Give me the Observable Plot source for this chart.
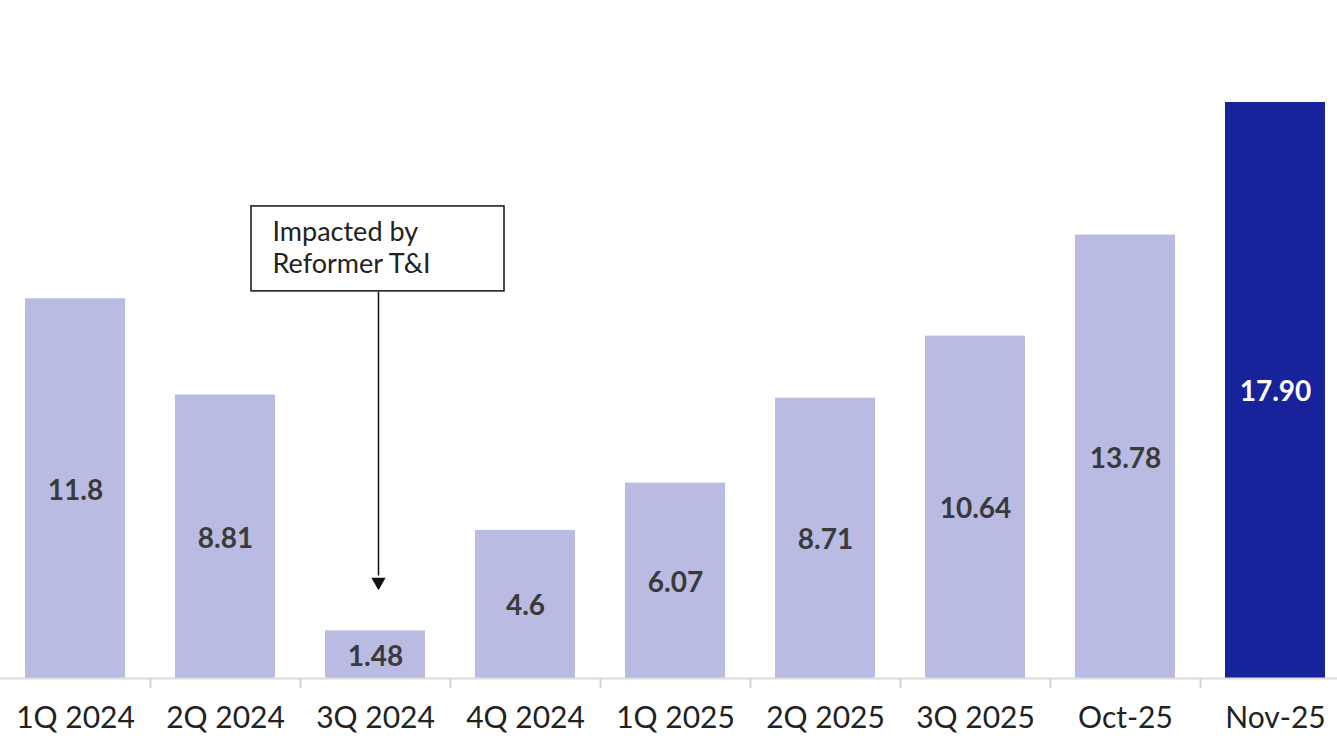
<!DOCTYPE html>
<html><head><meta charset="utf-8">
<script src="https://cdn.jsdelivr.net/npm/d3@7"></script>
<script src="https://cdn.jsdelivr.net/npm/@observablehq/plot@0.6"></script>
<style>html,body{margin:0;padding:0;background:#fff;overflow:hidden} svg{display:block}</style>
</head><body><div id="chart"></div>
<script>
const categories = ["1Q 2024","2Q 2024","3Q 2024","4Q 2024","1Q 2025","2Q 2025","3Q 2025","Oct-25","Nov-25"];
const values = [11.8, 8.81, 1.48, 4.6, 6.07, 8.71, 10.64, 13.78, 17.90];
const valueLabels = ["11.8","8.81","1.48","4.6","6.07","8.71","10.64","13.78","17.90"];
const highlightCategory = "Nov-25";
const annotationCategory = "3Q 2024";
const annotationText = "Impacted by\nReformer T&I";

const lightColor = "#b9bbe2";
const darkColor = "#18239b";

const data = categories.map((c, i) => ({cat: c, value: values[i], label: valueLabels[i]}));
const note = [{cat: annotationCategory, text: annotationText}];

const W = 1337, H = 736, baseline = 678, pxPerUnit = 32.18;

const chart = Plot.plot({
  width: W, height: H,
  marginTop: 0, marginBottom: H - baseline, marginLeft: 0, marginRight: 0,
  style: {fontFamily: "Lato, sans-serif", background: "#fff"},
  x: {domain: categories, range: [0, 1350], paddingInner: 1/3, paddingOuter: 1/6, label: null},
  y: {domain: [0, baseline / pxPerUnit], axis: null},
  color: {type: "identity"},
  marks: [
    Plot.barY(data, {x: "cat", y: "value", fill: d => d.cat === highlightCategory ? darkColor : lightColor}),
    Plot.ruleY([0], {stroke: "#dcdcdc", strokeWidth: 2}),
    Plot.axisX({ticks: categories.slice(0, -1), tickSize: 10, tickFormat: () => "", label: null, dx: 75, stroke: "#d4d4d4", strokeWidth: 2}),
    Plot.axisX({tickSize: 0, tickPadding: 28, fontSize: 30, fill: "#222", label: null, letterSpacing: "0.5px"}),
    Plot.text(data, {x: "cat", y: d => d.value / 2, text: "label", fontSize: 28, fontWeight: 700, dy: 2,
      fill: d => d.cat === highlightCategory ? "#ffffff" : "#3a3a3a"}),
    // annotation box
    Plot.barY(note, {x: "cat", y1: 12.03, y2: 14.67, fill: "none", stroke: "#111", strokeWidth: 1.5, insetLeft: -74, insetRight: -79}),
    Plot.text(note, {x: "cat", y: 13.43, text: "text", textAnchor: "start", dx: -103, fontSize: 27, lineHeight: 1.19, fill: "#222", letterSpacing: "0.8px"}),
    Plot.link(note, {x1: "cat", x2: "cat", y1: 12.03, y2: 3.2, stroke: "#111", strokeWidth: 1.5, dx: 3}),
    Plot.dot(note, {x: "cat", y: 3.0, symbol: "triangle", rotate: 180, r: 5.3, fill: "#111", stroke: "none", dx: 3})
  ]
});
document.getElementById("chart").appendChild(chart);
</script>
</body></html>
